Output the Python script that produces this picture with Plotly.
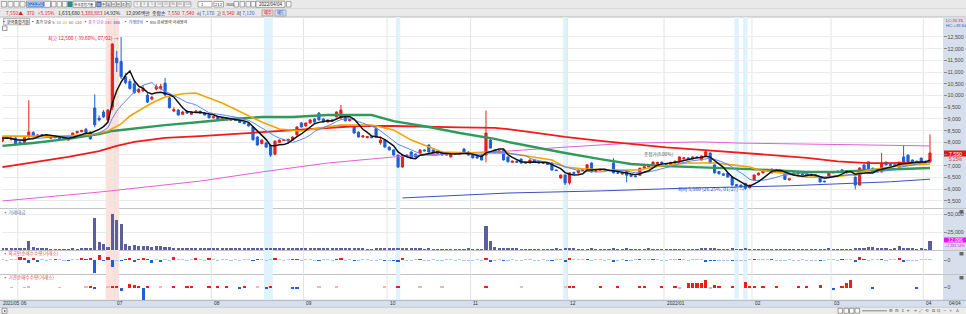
import plotly.graph_objects as go
import pandas as pd

W, H = 966, 314
FONT = "Noto Sans CJK KR"
NUMF = "Liberation Sans"

# ---------------- data ----------------
open_ = [8060, 8230, 8120, 8190, 8000, 7980, 8240, 8430, 8250, 8330,
         8270, 8180, 8260, 8200, 8170, 8100, 8220, 8410, 8460, 8560,
         8440, 9470, 9040, 9300, 8960, 9500, 11600, 11450, 10800, 10600,
         10500, 10150, 10200, 10020, 9850, 10280, 10300, 10530, 9900, 9340,
         9380, 9200, 9330, 9200, 9280, 9330, 9250, 9170, 9050, 9100,
         8950, 9050, 8950, 8990, 8950, 8850, 8800, 8660, 8230, 7950,
         7980, 7880, 7500, 8000, 8080, 8060, 8100, 8320, 8830, 8700,
         8830, 9000, 9250, 9000, 8870, 8960, 9090, 9040, 9050, 8920,
         8700, 8440, 8230, 8200, 8250, 8600, 7980, 8100, 7800, 7680,
         7460, 6950, 7460, 7590, 7500, 7550, 7680, 7890, 7680, 7600,
         7590, 7460, 7380, 7550, 7500, 7720, 7590, 7460, 7400, 7460,
         7460, 8100, 7680, 7550, 7680, 7380, 7150, 7200, 7290, 7160,
         7120, 7250, 7170, 7130, 7140, 7120, 6820, 6480, 6610, 6270,
         6720, 6700, 6800, 6830, 7120, 6750, 6800, 6850, 6830, 7120,
         6700, 6650, 6800, 6610, 6560, 6600, 6900, 6950, 7040, 7100,
         7160, 7100, 7050, 7120, 7170, 7300, 7340, 7300, 7380, 7250,
         7400, 7550, 7040, 6760, 6660, 6690, 6520, 6200, 6180, 6250,
         6060, 6400, 6610, 6700, 6800, 6700, 6850, 6780, 6700, 6400,
         6700, 6720, 6670, 6660, 6640, 6610, 6520, 6350, 6520, 6700,
         6780, 6830, 6700, 6750, 6520, 6180, 7040, 7170, 6900, 6800,
         6740, 7160, 7060, 7050, 6950, 7380, 7460, 7250, 7200, 7330,
         7200, 7170]
high = [8240, 8270, 8200, 8220, 8060, 8230, 9800, 8470, 8360, 8350,
        8360, 8270, 8290, 8230, 8200, 8180, 8420, 8500, 8540, 8620,
        8480, 10050, 9150, 9380, 9420, 12240, 11900, 12500, 10950, 10700,
        10620, 10330, 10450, 10100, 9990, 10480, 10500, 10750, 9950, 9500,
        9420, 9350, 9380, 9330, 9380, 9360, 9280, 9200, 9130, 9120,
        9080, 9070, 9030, 9010, 8970, 8880, 8830, 8700, 8260, 8130,
        8020, 7900, 8100, 8130, 8150, 8160, 8260, 8690, 8870, 8850,
        8990, 9030, 9290, 9030, 8980, 8990, 9320, 9600, 9080, 9000,
        8730, 8470, 8300, 8270, 8270, 8650, 8250, 8130, 7830, 7700,
        7480, 7480, 7490, 7620, 7530, 7700, 7700, 7920, 7700, 7620,
        7610, 7520, 7570, 7570, 7590, 7750, 7610, 7480, 7420, 7480,
        9360, 8150, 7700, 7660, 7700, 7400, 7220, 7220, 7310, 7180,
        7270, 7270, 7190, 7150, 7160, 7140, 6840, 6630, 6630, 6720,
        6750, 6840, 6870, 7070, 7150, 6820, 6870, 6870, 6850, 7330,
        6730, 6720, 6820, 6630, 6580, 6920, 6980, 7020, 7180, 7170,
        7180, 7120, 7170, 7220, 7400, 7360, 7360, 7400, 7400, 7440,
        7620, 7570, 7060, 6780, 6680, 6710, 6540, 6220, 6200, 6270,
        6200, 6630, 6710, 6840, 6870, 6880, 6870, 6800, 6720, 6470,
        6720, 6740, 6690, 6680, 6660, 6630, 6540, 6370, 6760, 6780,
        6800, 6850, 6820, 6820, 6540, 6930, 7060, 7190, 6920, 6820,
        7550, 7180, 7080, 7070, 7180, 7890, 7480, 7270, 7220, 7350,
        7220, 8340]
low = [8010, 8150, 8080, 7920, 7940, 7960, 8200, 8200, 8220, 8260,
       8250, 8140, 8180, 8120, 8110, 8080, 8200, 8380, 8430, 8400,
       8120, 8650, 8900, 9050, 8900, 9380, 11000, 10700, 10480, 10250,
       10080, 10100, 10150, 9680, 9800, 10220, 10250, 9980, 9450, 9300,
       9150, 9180, 9230, 9180, 9260, 9230, 9150, 9030, 9020, 8940,
       8930, 8940, 8930, 8920, 8830, 8780, 8680, 8080, 7870, 7920,
       7780, 7380, 7450, 7980, 8060, 8040, 8080, 8300, 8640, 8680,
       8800, 8850, 8940, 8850, 8850, 8900, 9070, 9020, 8900, 8900,
       8380, 8210, 8200, 8180, 8180, 8210, 7900, 7780, 7660, 7440,
       6920, 6930, 7380, 7320, 7360, 7530, 7620, 7570, 7530, 7500,
       7440, 7440, 7360, 7480, 7480, 7570, 7440, 7320, 7310, 7230,
       7150, 7740, 7530, 7530, 7230, 7150, 7130, 7130, 7100, 7100,
       7100, 7140, 7100, 7090, 7040, 6800, 6780, 6460, 6180, 6200,
       6660, 6680, 6780, 6810, 6720, 6730, 6780, 6800, 6780, 6680,
       6670, 6630, 6300, 6540, 6520, 6580, 6880, 6930, 7020, 7080,
       7080, 7030, 7030, 7100, 7150, 7280, 7280, 7280, 7330, 7230,
       7380, 7100, 6680, 6640, 6580, 6500, 6160, 6130, 6080, 5980,
       6040, 6380, 6590, 6680, 6780, 6680, 6760, 6740, 6400, 6380,
       6600, 6630, 6610, 6580, 6570, 6510, 6290, 6300, 6500, 6680,
       6700, 6680, 6680, 6730, 6000, 6160, 6800, 6800, 6720, 6740,
       6720, 7020, 7000, 6980, 6930, 7140, 7140, 7150, 7130, 7150,
       7160, 7120]
close = [8190, 8180, 8160, 7940, 7970, 8200, 8440, 8240, 8320, 8290,
         8330, 8240, 8200, 8150, 8130, 8160, 8400, 8470, 8510, 8420,
         8150, 8750, 8960, 9090, 9380, 12200, 11400, 10800, 10550, 10300,
         10120, 10260, 10290, 9720, 9930, 10380, 10390, 10030, 9480, 9400,
         9170, 9300, 9250, 9300, 9340, 9250, 9170, 9050, 9100, 8960,
         9050, 8960, 9000, 8940, 8850, 8800, 8700, 8110, 7890, 8100,
         7800, 7460, 8050, 8100, 8120, 8130, 8230, 8660, 8660, 8830,
         8960, 8870, 8960, 8870, 8960, 8920, 9300, 9380, 8920, 8980,
         8400, 8230, 8280, 8250, 8200, 8230, 8100, 7800, 7680, 7460,
         6950, 7460, 7400, 7340, 7380, 7680, 7640, 7590, 7550, 7520,
         7460, 7500, 7550, 7500, 7570, 7590, 7460, 7340, 7330, 7250,
         8400, 7760, 7550, 7640, 7250, 7170, 7200, 7150, 7120, 7120,
         7250, 7160, 7120, 7110, 7060, 6820, 6800, 6610, 6270, 6700,
         6680, 6820, 6850, 7050, 6740, 6800, 6850, 6820, 6800, 6700,
         6690, 6700, 6600, 6560, 6540, 6900, 6960, 7000, 7160, 7150,
         7100, 7050, 7150, 7200, 7380, 7340, 7300, 7380, 7350, 7420,
         7600, 7120, 6700, 6660, 6600, 6520, 6180, 6150, 6100, 6040,
         6180, 6610, 6690, 6820, 6850, 6860, 6780, 6760, 6420, 6450,
         6620, 6650, 6630, 6600, 6590, 6530, 6310, 6320, 6740, 6760,
         6720, 6700, 6800, 6800, 6180, 6910, 6820, 6820, 6740, 6760,
         7120, 7040, 7020, 7000, 7160, 7160, 7160, 7170, 7150, 7170,
         7180, 7550]

# trade value (million won)
trade_value = [1500, 1800, 2000, 2800, 1600, 1800, 12000, 3500, 2500, 1800,
               1500, 1300, 1200, 1000, 1100, 1200, 1400, 1300, 1500, 1600,
               1900, 45000, 10500, 8000, 4500, 50000, 41500, 36000, 8500, 6000,
               6500, 5000, 5500, 5000, 4800, 5500, 5000, 4000, 3800, 3000,
               2600, 2400, 2200, 2000, 2300, 2100, 1900, 1800, 2000, 1700,
               1600, 1800, 1500, 1400, 1600, 1500, 1700, 3000, 2800, 2000,
               2600, 3200, 3000, 1800, 1500, 1400, 1600, 2600, 2000, 1800,
               1900, 1700, 2400, 1800, 1500, 1400, 2000, 3000, 1900, 1400,
               2000, 1800, 1400, 1300, 1200, 1800, 1700, 1600, 1400, 1800,
               3000, 2800, 1500, 1700, 1400, 1500, 1300, 1600, 1200, 1100,
               1300, 1200, 1000, 1300, 1100, 1200, 1400, 1300, 1100, 1200,
               33000, 12500, 4000, 2500, 2200, 1800, 1500, 1400, 1300, 1200,
               1100, 1300, 1200, 1000, 1100, 1000, 1600, 1200, 1400, 2500,
               2200, 1300, 1200, 1100, 1400, 1000, 900, 1000, 1100, 2800,
               1200, 1000, 1500, 1100, 1000, 1300, 1100, 2500, 1200, 1000,
               900, 1000, 1100, 1000, 1200, 1100, 1300, 1200, 1100, 1400,
               2600, 1800, 1500, 1200, 1000, 1100, 1400, 1200, 1100, 1600,
               1300, 1200, 1000, 1100, 900, 1000, 1100, 900, 1200, 1000,
               900, 1000, 1100, 900, 1000, 1200, 1300, 1100, 1400, 1000,
               1100, 1200, 1300, 1000, 2800, 2600, 2200, 4500, 4000, 2500,
               2200, 1500, 1300, 2500, 5500, 3000, 2000, 1500, 1300, 1400,
               1300, 12096]

foreign_net = [0.6, -0.5, 0.7, 0.6, 3.0, 2.5, -2.7, 1.7, -1.7, 0.6,
               -0.5, 0.6, 1.0, 0.5, -0.6, -1.0, 0.6, 0.7, 1.2, 0.8,
               1.5, -12.7, 5.0, -1.0, 2.7, -7.3, -0.7, -1.0, 0.8, 1.7,
               -1.5, 0.8, 1.7, 0.8, -3.3, 0.7, -1.3, 0.6, -0.7, 2.7,
               0.6, 0.7, -0.6, 0.6, 1.7, 0.6, -0.5, 1.3, 0.7, -0.6,
               0.6, 0.5, -0.6, 0.7, -0.5, 0.6, 0.7, -0.8, 1.0, 0.6,
               -0.7, 0.6, 1.3, 0.7, -0.5, 0.6, 0.8, 1.0, -0.6, 0.7,
               0.6, -0.5, -0.8, 0.6, 0.7, -0.5, 0.8, 1.2, -0.7, 0.6,
               -0.8, -0.6, 0.6, 0.5, -0.5, -0.7, 0.7, -0.9, -0.6, -0.8,
               -1.3, 1.5, -0.6, -0.7, 0.6, 0.8, -0.5, -0.6, 0.6, -0.5,
               -0.6, 0.5, 0.7, -0.5, 0.6, -0.6, -0.7, -0.6, 0.5, -0.6,
               2.2, -1.5, -0.7, 0.6, -0.8, -0.6, 0.5, -0.5, -0.6, 0.5,
               0.7, -0.5, -0.6, 0.5, -0.6, -0.8, 0.5, 0.7, -1.2, 1.3,
               0.6, 0.7, 0.6, 0.8, -0.7, 0.6, 0.5, -0.6, 0.6, -2.0,
               -0.6, 0.5, -0.8, -0.6, 0.5, 0.9, 0.6, 0.7, 0.8, 0.6,
               -0.5, -0.6, 0.6, 0.7, 0.8, 0.6, -0.5, 0.6, 0.5, 0.7,
               -2.0, -0.8, -0.9, -0.6, -0.5, -0.7, -0.9, -0.6, -0.5, -0.7,
               0.6, 0.8, 0.6, 0.7, 0.6, 1.0, -0.6, -0.5, -0.7, 0.6,
               -0.6, -0.5, 0.5, -0.6, -0.5, -0.6, -0.8, -0.5, 0.7, 0.6,
               -0.5, 1.0, 0.6, 0.7, -2.0, 3.0, 0.8, -0.6, 0.7, 0.6,
               0.8, -0.6, 0.5, 0.6, 2.0, -1.5, -0.7, -0.6, -0.5, 0.6,
               0.6, 0.7]

inst_net = [0, 0, 0.5, 0, 0, -0.5, 0.6, 0, 0, 0,
            0, 0, 0, 0.5, 0, 0, 0, 0, 0, 0.6,
            1.7, -1.7, 0, 0, 0.6, 0.8, 1.7, -3.3, 0, 3.3,
            2.3, 1.7, -12.7, 1.0, 0, 0, 0.6, 0, 0, 1.0,
            0, 0, 1.7, 1.7, 0, 0, 0, 2.0, 0, 1.7,
            0, 1.7, 0, 0, -1.0, 1.7, 0, 0, 0.6, 0,
            -1.3, 1.0, 0, 0, 0, 0, -1.0, -1.0, 0, 0,
            0, 0, 0.7, 0, 0, 0, 0.6, 0, 0, 0,
            0, 0, 0, 0, 0, 0, 0, 0.7, 0, 0,
            0.8, 0, 0, 0, 0, 0.7, 0, 0, 0, 0,
            0.7, 0, 0, 0, 0, 0, 0, 0, 0, 0,
            1.3, 0, 0, 0, 0, 0, 0, 0, 0.6, 0,
            0, 0, 0, 0, 0, 0, 0, 0, 0.7, 1.0,
            0.8, 0, 0, 0, 0, 0, 1.0, 0, 0, 0,
            1.0, 0, 0, 0, 0, 1.7, 1.0, 0, 0, 0,
            1.0, 0, 0, 1.5, -0.7, 0, 4.3, 4.3, 4.3, 4.6,
            7.7, -0.7, 2.3, 1.7, 0, 0, 1.3, 0, 0, 5.7,
            1.7, 1.7, 0, 1.3, 0, 0, 1.0, 0, 0, 0,
            0, 1.3, 0, 1.0, 0, 0, 2.7, 0, 0, -2.0,
            0, 1.3, 5.0, 7.7, 0, 0, 0, 0, -1.0, 0,
            0, 0, 0, 0, 0, 0, 0, 0, -1.3, 0,
            0, 0]

# long moving averages (bar index, value)
ma20_i = [0, 13, 20, 24, 27, 29, 34, 37, 41, 44, 50, 57, 59, 63, 66, 68, 72, 77, 84, 89, 93, 100,
          108, 115, 125, 128, 132, 138, 145, 148, 156, 162, 166, 170, 172, 177, 183, 188, 193, 197,
          202, 207, 211]
ma20_v = [8270, 8270, 8320, 8490, 8790, 9130, 9680, 9940, 10080, 10110, 9680, 9040, 8870, 8570,
          8540, 8490, 8610, 8740, 8740, 8530, 8100, 7590, 7550, 7550, 7250, 6950, 6870, 6820, 6820,
          6950, 7120, 7120, 7040, 6950, 6820, 6700, 6520, 6520, 6610, 6820, 6950, 7040, 7080]
ma60_i = [0, 7, 15, 22, 25, 31, 37, 45, 52, 59, 66, 74, 84, 89, 97, 104, 112, 115, 121, 128, 136,
          143, 151, 159, 167, 170, 175, 183, 190, 198, 211]
ma60_v = [7850, 7975, 8150, 8360, 8490, 8620, 8740, 8870, 9000, 9085, 9085, 9170, 9170, 8910, 8660,
          8400, 8150, 8020, 7800, 7550, 7290, 7080, 6990, 6950, 6880, 6860, 6820, 6740, 6740, 6820,
          6910]
ma120_i = [0, 7, 15, 22, 26, 30, 37, 45, 52, 59, 66, 74, 81, 89, 97, 104, 112, 115, 121, 128, 136,
           143, 151, 159, 170, 175, 183, 190, 197, 202, 211]
ma120_v = [6950, 7165, 7380, 7630, 7850, 8020, 8190, 8270, 8360, 8445, 8530, 8640, 8700, 8700, 8660,
           8640, 8620, 8570, 8420, 8240, 8070, 7930, 7790, 7680, 7540, 7460, 7340, 7190, 7120, 7120,
           7160]
ma240_i = [0, 22, 45, 59, 74, 89, 104, 115, 128, 143, 159, 168, 190, 211]
ma240_v = [5500, 5880, 6350, 6740, 7120, 7380, 7550, 7630, 7800, 7970, 8020, 7970, 7910, 7850]
ma480_i = [91, 115, 136, 156, 179, 191, 202, 211]
ma480_v = [5630, 5840, 5930, 6050, 6150, 6250, 6320, 6430]

month_idx = [4, 26, 48, 69, 88, 107, 129, 151, 171, 189, 210]
month_lbl = ["06", "07", "08", "09", "10", "11", "12", "2022/01", "02", "03", "04"]
price_ticks = [5500, 6000, 6500, 7000, 7500, 8000, 8500, 9000, 9500, 10000, 10500, 11000, 11500, 12000, 12500]
vol_ticks = [25000, 50000]
pink_band = [(24, 26)]
blue_bands = [(60, 61), (90, 90), (128, 128), (167, 167), (169, 169)]

# ---------------- derived ----------------
n = len(close)
idx = list(range(n))
ma5 = pd.Series(close).rolling(5, min_periods=1).mean().tolist()
ma10 = pd.Series(close).rolling(10, min_periods=1).mean().tolist()

UP, DN = "#e4201c", "#1f5fd8"
VOL = "#5d5f9d"
NB = "\u00a0"


def X(px):
    return px / W


def Y(py):
    return 1 - py / H


shapes, ann = [], []


def rect(x0, y0, x1, y1, fill, line=None, lw=0.7, layer="below"):
    shapes.append(dict(type="rect", xref="paper", yref="paper", x0=X(x0), x1=X(x1), y0=Y(y1), y1=Y(y0),
                       fillcolor=fill, line=dict(color=line if line else fill, width=lw if line else 0),
                       layer=layer))


def hline(y, x0, x1, color, w=1):
    shapes.append(dict(type="line", xref="paper", yref="paper", x0=X(x0), x1=X(x1), y0=Y(y), y1=Y(y),
                       line=dict(color=color, width=w), layer="below"))


def text(x, y, s, color="#333", size=5.5, anchor="left", family=FONT):
    ann.append(dict(x=X(x), y=Y(y), xref="paper", yref="paper", text=s, showarrow=False,
                    xanchor=anchor, yanchor="middle", borderpad=0,
                    font=dict(size=size, color=color, family=family)))


def span(s, color):
    return f'<span style="color:{color}">{s}</span>'


# backgrounds
rect(0, 0, W, 17, "#e9e9e9")
hline(8.5, 0, W, "#d6d6d6", 0.8)
hline(17, 0, W, "#b9b9b9", 1)
rect(943, 17, W, 300, "#d6dfeb")
rect(0, 300, W, 307, "#d6dfeb")
hline(300.3, 0, W, "#a9b4c4", 1)
rect(0, 307, W, H, "#ececec")
hline(307.3, 0, W, "#c3c3c3", 0.8)
for yy in (208.5, 250.5, 274.5):
    hline(yy, 0, W, "#c3c3c3", 1)

# bands and month lines (data x, paper y)
yb0, yb1 = Y(300), Y(17)
for a, b in pink_band:
    shapes.append(dict(type="rect", xref="x", yref="paper", x0=a - 0.5, x1=b + 0.5, y0=yb0, y1=yb1,
                       fillcolor="#fde1da", line=dict(width=0), layer="below"))
for a, b in blue_bands:
    shapes.append(dict(type="rect", xref="x", yref="paper", x0=a - 0.5, x1=b + 0.5, y0=yb0, y1=yb1,
                       fillcolor="#def3fc", line=dict(width=0), layer="below"))
for m in month_idx:
    shapes.append(dict(type="line", xref="x", yref="paper", x0=m - 0.5, x1=m - 0.5, y0=yb0, y1=yb1,
                       line=dict(color="#e3e3e3", width=1), layer="below"))

# right-side value boxes
rect(944, 150.5, W, 156.5, "#e8140c")
rect(944, 237.5, W, 242.5, "#f010f0")
for yy in (210, 252, 276):
    rect(959.5, yy, 963.5, yy + 3.5, "#6a6a6a")

# header row 1 widgets
for x0 in (1.5, 8, 14, 20):
    rect(x0, 1.5, x0 + 5, 7, "#f6f6f6", "#8a8a8a")
rect(26.5, 1.2, 50.5, 7.3, "#ffffff", "#7a7a7a")
rect(27.5, 2, 44.5, 6.6, "#2f6cd0")
text(36, 4.3, "023350", "#ffffff", 4.6, "center", NUMF)
for x0 in (51.5, 57, 62.5):
    rect(x0, 1.5, x0 + 4.5, 7, "#f6f6f6", "#8a8a8a")
rect(67.5, 1.3, 72.5, 7.2, "#2b8c8c")
rect(73, 1.2, 95.5, 7.3, "#ffffff", "#7a7a7a")
text(84.2, 4.3, "한국종합기술", "#111", 3.5, "center")
periods = ["日", "주", "월", "년", "분", "초", "틱"]
for k, p in enumerate(periods):
    x0 = 96.5 + k * 5
    rect(x0, 1.5, x0 + 4.5, 7, "#3a6cc8" if k == 0 else "#f6f6f6", "#8a8a8a")
    text(x0 + 2.25, 4.3, p, "#ffffff" if k == 0 else "#333", 3.2, "center")
nums = ["1", "3", "5", "10", "15", "30", "60", "120"]
for k, p in enumerate(nums):
    x0 = 134 + k * 7.2
    rect(x0, 1.5, x0 + 6.5, 7, "#f3f3f3", "#a0a0a0")
    text(x0 + 3.25, 4.3, p, "#888", 3.6, "center", NUMF)
rect(198, 1.5, 212, 7, "#ffffff", "#8a8a8a")
text(200, 4.3, "1", "#333", 4.2, "left", NUMF)
rect(214, 1.5, 223.5, 7, "#ffffff", "#8a8a8a")
text(218.7, 4.3, "212", "#333", 4.2, "center", NUMF)
text(224.5, 4.3, "/500", "#333", 4.2, "left", NUMF)
for x0 in (234, 240, 246, 251):
    rect(x0, 1.5, x0 + 4.5, 7, "#f6f6f6", "#8a8a8a")
rect(256, 1.2, 285, 7.3, "#ffffff", "#7a7a7a")
text(270.5, 4.3, "2022/04/04", "#222", 4.6, "center", NUMF)
rect(286.5, 1.5, 291, 7, "#f6f6f6", "#8a8a8a")

# header row 2 quote line (single flowing text)
R, B, K = "#e0201c", "#1f5fd8", "#222"
sp2 = NB * 3
quote = (span("7,550▲", R) + sp2 + span("370", R) + sp2 + span("+5.15%", R) + sp2 +
         span("1,633,680", K) + NB + span("3,388,883", R) + NB + span("14.92%", K) + NB * 5 +
         span("12,096백만", K) + NB * 2 + span("종합손", K) + NB * 2 + span("7,550", R) + NB * 2 +
         span("7,540", R) + NB * 2 + span("시", K) + NB + span("7,170", B) + NB * 2 + span("고", K) + NB +
         span("8,340", R) + NB * 2 + span("저", K) + NB + span("7,120", B))
text(5, 13, quote, K, 4.9)
rect(262, 10, 273, 16, "#f7d6d6", "#b08a8a")
text(267.5, 13, "매수", "#c01818", 4.2, "center")
rect(275, 10, 286, 16, "#d2e2f6", "#8a9ab0")
text(280.5, 13, "매도", "#1848b0", 4.2, "center")

# legend row (single flowing text)
rect(3.5, 18.4, 29.5, 24.8, "#f2f2f2", "#9a9a9a")
legend = (span("▪", "#444") + NB + span("한국종합기술", "#111") + NB * 2 + span("▪ 종가 단순 5", "#333") + NB * 2 +
          span("10", "#5a87f0") + NB * 2 + span("20", "#e8a000") + NB * 2 + span("60", "#2f9a5c") + NB * 2 +
          span("120", "#f03030") + NB * 2 + span("▪", "#444") + NB + span("종가 단순 240", "#e050d0") + NB * 2 +
          span("480", "#3a50c4") + NB * 4 + span("▪ 거래량바", "#3458c8") + NB * 2 +
          span("▪ RSI 강세영역 약세영역", "#333"))
text(0.5, 21.6, legend, "#333", 4.0)
rect(2.5, 26, 7, 30.5, "#f4f4f4", "#777")

# chart labels
text(120, 38, "최고 12,500 (-39.60%, 07/02) →", "#e0201c", 5.0, "right")
text(745, 189, "최저 5,980 (26.25%, 01/27) →", "#2f50c8", 5.0, "right")
text(643, 154.5, "종정가(8.00%)", "#555", 4.6)

# panel labels
text(2, 212.5, "▪ 거래대금", "#6a6a9a", 4.6)
text(2, 253, "▪ 외국인순매수수량(거래소)", "#e04848", 4.6)
text(2, 277.5, "▪ 기관순매수수량(거래소)", "#e04848", 4.6)

# right side texts
text(944.5, 20.5, "LC:26.35", "#e0201c", 4.2, "left", NUMF)
text(944.5, 25.5, "HC:+39.50", "#2f5fd0", 4.2, "left", NUMF)
text(955, 153.5, "7,550", "#ffffff", 5.2, "center", NUMF)
text(955, 159, "5.15%", "#e0201c", 4.6, "center", NUMF)
text(955, 240, "12,096", "#ffffff", 4.8, "center", NUMF)
text(955, 245.5, "+1,383.54%", "#e010e0", 3.7, "center", NUMF)

# date strip
text(1.5, 303.7, "2021/05", "#333", 4.5, "left", NUMF)
x0px, step = 20.0, 4.396
for m, lab in zip(month_idx, month_lbl):
    text(x0px + (m - 4) * step - 0.5, 303.7, lab, "#333", 4.8, "left", NUMF)
text(948, 303.7, "04/04", "#333", 4.6, "left", NUMF)

# bottom controls
rect(2, 308.3, 7, 313.3, "#f8f8f8", "#777")
text(4.5, 310.8, "▸", "#333", 3.6, "center")
for x0 in (838, 844, 849.5, 855):
    rect(x0, 308.3, x0 + 4.5, 313.3, "#f8f8f8", "#777")
hline(310.8, 862, 887, "#888", 1)
for k, g in enumerate(["⊞", "⊟", "↕", "⇤", "⇥", "⤢", "⟲", "⧉", "Q", "−", "+", "A"]):
    text(891 + k * 6, 310.8, g, "#555", 4.2, "center", "DejaVu Sans")

# ---------------- traces ----------------
fig = go.Figure()
fig.add_trace(go.Candlestick(
    x=idx, open=open_, high=high, low=low, close=close,
    increasing=dict(line=dict(color=UP, width=1), fillcolor=UP),
    decreasing=dict(line=dict(color=DN, width=1), fillcolor=DN),
    whiskerwidth=0, hoverinfo="skip", showlegend=False, xaxis="x", yaxis="y"))


def line(xs, ys, color, width):
    fig.add_trace(go.Scatter(x=xs, y=ys, mode="lines", line=dict(color=color, width=width),
                             hoverinfo="skip", showlegend=False, xaxis="x", yaxis="y"))


line(ma240_i, ma240_v, "#e35fd6", 1)
line(ma480_i, ma480_v, "#3a50c4", 1)
line(ma120_i, ma120_v, "#f21a1a", 1.8)
line(ma60_i, ma60_v, "#2f9a5c", 2.4)
line(ma20_i, ma20_v, "#f0a500", 1.6)
line(idx, ma10, "#5a87f0", 1)
line(idx, ma5, "#111111", 1.5)

fig.add_trace(go.Bar(x=idx, y=trade_value, marker=dict(color=VOL, line=dict(width=0)), width=0.72,
                     hoverinfo="skip", showlegend=False, xaxis="x", yaxis="y2"))


def net_colors(vals):
    out = []
    for v in vals:
        if v >= 0.75:
            out.append("#e8201c")
        elif v > 0:
            out.append("#f5b3b1")
        elif v <= -0.75:
            out.append("#1f5fd8")
        else:
            out.append("#a9c3ee")
    return out


fig.add_trace(go.Bar(x=idx, y=foreign_net, marker=dict(color=net_colors(foreign_net), line=dict(width=0)),
                     width=0.72, hoverinfo="skip", showlegend=False, xaxis="x", yaxis="y3"))
fig.add_trace(go.Bar(x=idx, y=inst_net, marker=dict(color=net_colors(inst_net), line=dict(width=0)),
                     width=0.72, hoverinfo="skip", showlegend=False, xaxis="x", yaxis="y4"))

axis_common = dict(side="right", anchor="x", ticks="outside", ticklen=2.5, tickcolor="#8a8a8a",
                   tickfont=dict(size=5.3, color="#4a4a4a", family=NUMF), showline=False,
                   zeroline=False, automargin=False, fixedrange=True)

fig.update_layout(
    width=W, height=H, margin=dict(l=0, r=0, t=0, b=0, pad=0),
    paper_bgcolor="#ffffff", plot_bgcolor="rgba(0,0,0,0)",
    font=dict(family=FONT, size=6, color="#333"),
    showlegend=False, bargap=0, hovermode=False,
    xaxis=dict(domain=[X(2), X(943)], range=[-0.095, 213.96], showticklabels=False, showgrid=False,
               zeroline=False, showline=False, ticks="", rangeslider=dict(visible=False),
               anchor="y4", automargin=False, fixedrange=True),
    yaxis=dict(domain=[Y(208), Y(17)], range=[5201, 13353], tickvals=price_ticks,
               ticktext=[("" if v == 7500 else f"{v:,}") for v in price_ticks],
               showgrid=True, gridcolor="#ebebeb", gridwidth=1, **axis_common),
    yaxis2=dict(domain=[Y(250), Y(209)], range=[0, 56944], tickvals=vol_ticks,
                ticktext=[f"{v:,}" for v in vol_ticks], showgrid=True, gridcolor="#ebebeb", **axis_common),
    yaxis3=dict(domain=[Y(274), Y(251)], range=[-14, 9], tickvals=[0], ticktext=["0"], showgrid=False,
                **axis_common),
    yaxis4=dict(domain=[Y(300), Y(275)], range=[-12.5, 12.5], tickvals=[0], ticktext=["0"], showgrid=False,
                **axis_common),
    shapes=shapes, annotations=ann,
)

fig.write_html("out.html", include_plotlyjs=True, config={"displayModeBar": False})
